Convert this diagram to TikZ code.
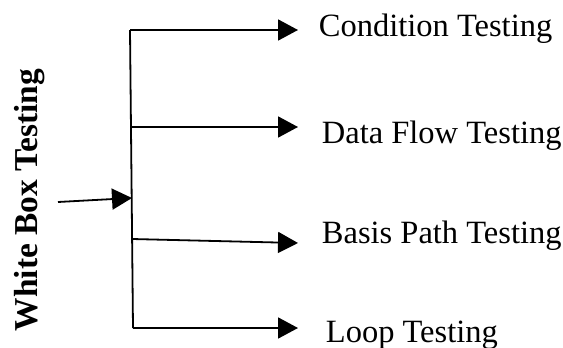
\documentclass[tikz,border=0pt]{standalone}
\usepackage{fontspec}
\setmainfont{Liberation Serif}
\usetikzlibrary{arrows.meta}
\begin{document}
\begin{tikzpicture}[x=1pt,y=-1pt,
  line width=1.8pt,
  arr/.style={-{Triangle[length=20pt,width=21pt]}},
  lbl/.style={inner sep=0pt, anchor=base west, font=\fontsize{32.5}{39}\selectfont},
  title/.style={inner sep=0pt, rotate=90, font=\fontsize{33.4}{40}\selectfont\bfseries}]
\useasboundingbox (0,0) rectangle (563,348);
% title
\node[title] (wb) at (30,200) {White Box Testing};
% labels
\node[lbl] (c1) at (318,36) {Condition Testing};
\node[lbl] (c2) at (321,143) {Data Flow Testing};
\node[lbl] (c3) at (321,243) {Basis Path Testing};
\node[lbl] (c4) at (325,342) {Loop Testing};
% junctions
\coordinate (j1) at (130,30);
\coordinate (j2) at (131,127);
\coordinate (jin) at (132,198);
\coordinate (j3) at (132,239);
\coordinate (j4) at (133,328);
\coordinate (in0) at (58,202);
% tips
\coordinate (t1) at (298,30);
\coordinate (t2) at (298,127);
\coordinate (t3) at (298,243);
\coordinate (t4) at (298,328);
% spine
\draw (j1) -- (j4);
% branches
\draw[arr] (j1) -- (t1);
\draw[arr] (j2) -- (t2);
\draw[arr] (j3) -- (t3);
\draw[arr] (j4) -- (t4);
% input
\draw[arr] (in0) -- (jin);
\end{tikzpicture}
\end{document}
